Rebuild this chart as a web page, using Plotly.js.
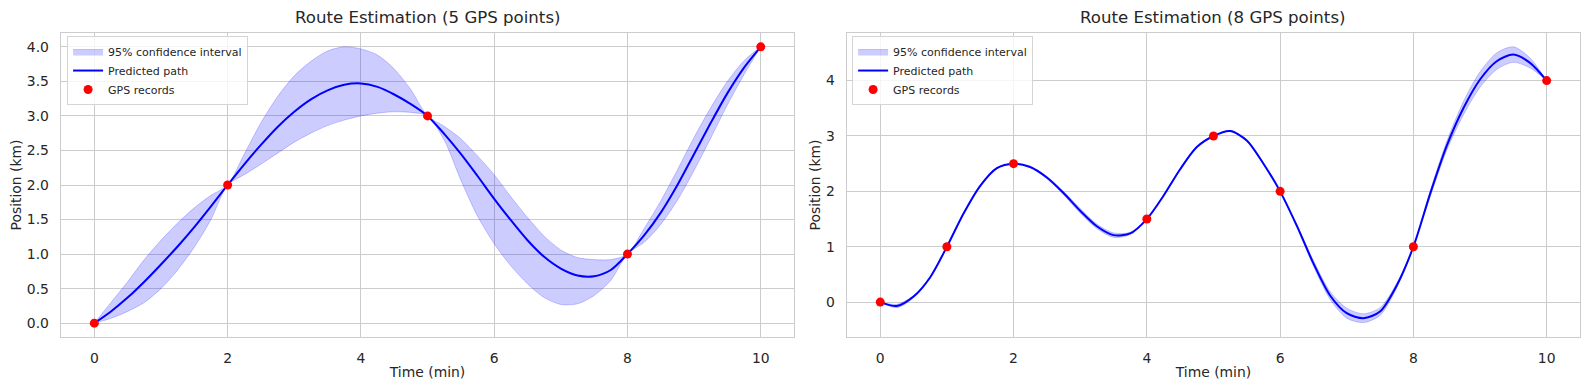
<!DOCTYPE html>
<html>
<head>
<meta charset="utf-8">
<script src="https://cdn.plot.ly/plotly-3.0.1.min.js"></script>
<style>
  html, body { margin: 0; padding: 0; background: #ffffff; }
  #chart { width: 1589px; height: 390px; }
</style>
</head>
<body>
<div id="chart"></div>
<script>
// ---------- Data ----------
const gridX = [0,0.25,0.5,0.75,1,1.25,1.5,1.75,2,2.25,2.5,2.75,3,3.25,3.5,3.75,4,4.25,4.5,4.75,5,
               5.25,5.5,5.75,6,6.25,6.5,6.75,7,7.25,7.5,7.75,8,8.25,8.5,8.75,9,9.25,9.5,9.75,10];

// Left panel: 5 GPS points
const gps5X = [0, 2, 5, 8, 10];
const gps5Y = [0, 2, 3, 1, 4];
const mean5 = [0,0.17,0.37,0.6,0.85,1.11,1.39,1.69,2.0,2.3,2.58,2.84,3.06,3.24,3.37,3.45,3.47,3.42,3.31,3.17,3.0,
               2.74,2.45,2.13,1.8,1.49,1.2,0.96,0.79,0.69,0.68,0.77,1.0,1.27,1.6,2.0,2.45,2.9,3.33,3.7,4.0];
const upper5 = [0,0.3,0.6,0.92,1.2,1.45,1.67,1.85,2.0,2.45,2.9,3.28,3.58,3.79,3.94,4.0,3.97,3.88,3.68,3.38,3.0,
                2.85,2.67,2.42,2.15,1.83,1.53,1.26,1.06,0.95,0.92,0.92,1.0,1.37,1.77,2.22,2.69,3.12,3.5,3.8,4.0];
const lower5 = [0,0.07,0.17,0.3,0.5,0.77,1.1,1.5,2.0,2.15,2.3,2.46,2.62,2.75,2.86,2.94,3.0,3.04,3.06,3.05,3.0,
                2.65,2.07,1.55,1.15,0.83,0.57,0.37,0.27,0.28,0.4,0.62,1.0,1.17,1.43,1.78,2.21,2.68,3.16,3.6,4.0];

// Right panel: 8 GPS points
const gps8X = [0, 1, 2, 4, 5, 6, 8, 10];
const gps8Y = [0, 1, 2.5, 1.5, 3, 2, 1, 4];
const mean8 = [0,-0.07,0.1,0.45,1.0,1.6,2.1,2.42,2.5,2.44,2.25,1.97,1.65,1.37,1.21,1.24,1.5,1.92,2.4,2.8,3.0,
               3.09,2.92,2.5,2.0,1.38,0.7,0.12,-0.2,-0.29,-0.17,0.3,1.0,1.95,2.82,3.5,4.02,4.35,4.47,4.32,4.0];
const upper8 = [0,-0.04,0.12,0.46,1.0,1.61,2.11,2.43,2.5,2.45,2.27,2.0,1.69,1.41,1.25,1.26,1.5,1.93,2.41,2.81,3.0,
                3.1,2.93,2.51,2.0,1.4,0.75,0.19,-0.11,-0.21,-0.1,0.34,1.0,2.0,2.9,3.62,4.16,4.5,4.61,4.41,4.0];
const lower8 = [0,-0.1,0.08,0.44,1.0,1.59,2.09,2.41,2.5,2.43,2.23,1.94,1.61,1.33,1.17,1.22,1.5,1.91,2.39,2.79,3.0,
                3.08,2.91,2.49,2.0,1.36,0.65,0.05,-0.29,-0.37,-0.24,0.26,1.0,1.9,2.74,3.38,3.88,4.2,4.33,4.23,4.0];

const titles = ["Route Estimation (5 GPS points)", "Route Estimation (8 GPS points)"];
const xTitle = "Time (min)";
const yTitle = "Position (km)";
const legendNames = ["95% confidence interval", "Predicted path", "GPS records"];

// ---------- Styles ----------
const FONT = "DejaVu Sans, Liberation Sans, sans-serif";
const TXT = "#262626";
const GRID = "#cccccc";
const bandFill = "rgba(0,0,255,0.2)";
const bandEdge = "rgba(0,0,255,0.2)";

function panelTraces(xa, ya, leg, mean, up, lo, px, py) {
  return [
    {x: gridX, y: lo, xaxis: xa, yaxis: ya, type: "scatter", mode: "lines",
     line: {color: bandEdge, width: 1, shape: "spline", smoothing: 0.8},
     showlegend: false, hoverinfo: "skip", legend: leg},
    {x: gridX, y: up, xaxis: xa, yaxis: ya, type: "scatter", mode: "lines",
     line: {color: bandEdge, width: 1, shape: "spline", smoothing: 0.8},
     fill: "tonexty", fillcolor: bandFill, name: legendNames[0], legend: leg},
    {x: gridX, y: mean, xaxis: xa, yaxis: ya, type: "scatter", mode: "lines",
     line: {color: "#0000ff", width: 2, shape: "spline", smoothing: 0.8},
     name: legendNames[1], legend: leg},
    {x: px, y: py, xaxis: xa, yaxis: ya, type: "scatter", mode: "markers",
     marker: {color: "#ff0000", size: 9}, name: legendNames[2], legend: leg}
  ];
}

const data = [
  ...panelTraces("x", "y", "legend", mean5, upper5, lower5, gps5X, gps5Y),
  ...panelTraces("x2", "y2", "legend2", mean8, upper8, lower8, gps8X, gps8Y)
];

function xAxis(domain, anchor) {
  return {
    domain: domain, anchor: anchor, range: [-0.5, 10.5], dtick: 2, tick0: 0,
    showgrid: true, gridcolor: GRID, gridwidth: 1, zeroline: false,
    showline: true, mirror: true, linecolor: GRID, linewidth: 1.3,
    ticks: "", ticklabelstandoff: 8,
    tickfont: {family: FONT, size: 13.9, color: TXT},
    title: {text: xTitle, font: {family: FONT, size: 13.9, color: TXT}, standoff: 2}
  };
}
function yAxis(range, dtick, fmt, anchor) {
  return {
    range: range, dtick: dtick, tick0: 0, tickformat: fmt, anchor: anchor,
    showgrid: true, gridcolor: GRID, gridwidth: 1, zeroline: false,
    showline: true, mirror: true, linecolor: GRID, linewidth: 1.3,
    ticks: "", ticklabelstandoff: 8,
    tickfont: {family: FONT, size: 13.9, color: TXT},
    title: {text: yTitle, font: {family: FONT, size: 13.9, color: TXT}, standoff: 2}
  };
}

const legendStyle = (x) => ({
  x: x, y: 0.99, xref: "paper", yref: "paper", xanchor: "left", yanchor: "top",
  bgcolor: "rgba(255,255,255,0.8)", bordercolor: "#d5d5d5", borderwidth: 1,
  font: {family: FONT, size: 11, color: TXT}, itemwidth: 30, tracegroupgap: 0,
  traceorder: "normal"
});

const layout = {
  width: 1589, height: 390,
  margin: {l: 61, r: 9, t: 33, b: 53},
  paper_bgcolor: "#ffffff", plot_bgcolor: "#ffffff",
  font: {family: FONT, color: TXT},
  showlegend: true,
  xaxis: xAxis([0, 0.4826], "y"),
  yaxis: yAxis([-0.2, 4.2], 0.5, ".1f", "x"),
  xaxis2: xAxis([0.5174, 1], "y2"),
  yaxis2: yAxis([-0.63, 4.86], 1, "d", "x2"),
  legend: legendStyle(0.004),
  legend2: legendStyle(0.5208),
  annotations: [
    {text: titles[0], x: 0.2413, y: 1.05, xref: "paper", yref: "paper",
     xanchor: "center", yanchor: "middle", showarrow: false,
     font: {family: FONT, size: 16.6, color: TXT}},
    {text: titles[1], x: 0.7587, y: 1.05, xref: "paper", yref: "paper",
     xanchor: "center", yanchor: "middle", showarrow: false,
     font: {family: FONT, size: 16.6, color: TXT}}
  ]
};

Plotly.newPlot("chart", data, layout, {displayModeBar: false, staticPlot: true});
</script>
</body>
</html>
